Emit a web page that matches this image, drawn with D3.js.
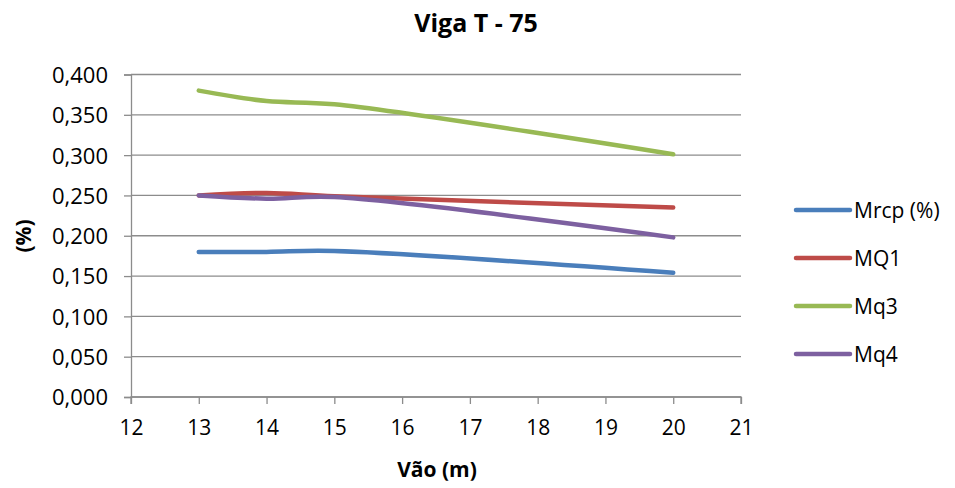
<!DOCTYPE html>
<html>
<head>
<meta charset="utf-8">
<script src="https://cdn.jsdelivr.net/npm/d3@7"></script>
<style>
  html, body { margin: 0; padding: 0; background: #fff; }
  text { font-family: "Open Sans", Lato, sans-serif; fill: #000; }
</style>
</head>
<body>
<svg id="chart" width="955" height="488"></svg>
<script>
// Span (m) and ratio values per series
const spans = [13, 14, 15, 20];
const mrcp = [0.180, 0.180, 0.181, 0.154];
const mq1  = [0.250, 0.253, 0.249, 0.235];
const mq3  = [0.380, 0.367, 0.363, 0.301];
const mq4  = [0.250, 0.246, 0.248, 0.198];
const seriesNames = ["Mrcp (%)", "MQ1", "Mq3", "Mq4"];
const seriesColors = ["#4A7EBB", "#BE4B48", "#98B954", "#7D60A0"];
const xTicks = [12, 13, 14, 15, 16, 17, 18, 19, 20, 21];
const yTicks = [0, 0.05, 0.10, 0.15, 0.20, 0.25, 0.30, 0.35, 0.40];

const series = [mrcp, mq1, mq3, mq4].map((vals, i) => ({
  name: seriesNames[i],
  color: seriesColors[i],
  points: vals.map((v, j) => ({ x: spans[j], y: v }))
}));

const svg = d3.select("#chart");
const plot = { left: 131, right: 741, top: 74.5, bottom: 397 };
const FONT = "'Open Sans', Lato, sans-serif";

const x = d3.scaleLinear().domain([12, 21]).range([plot.left, plot.right]);
const y = d3.scaleLinear().domain([0, 0.4]).range([plot.bottom, plot.top]);

// Horizontal gridlines
svg.append("g")
  .selectAll("line")
  .data(yTicks)
  .join("line")
  .attr("x1", plot.left)
  .attr("x2", plot.right)
  .attr("y1", d => y(d))
  .attr("y2", d => y(d))
  .attr("stroke", "#8c8c8c")
  .attr("stroke-width", 1.3);

const fmt = d => d3.format(".3f")(d).replace(".", ",");

// Y axis
const yAxis = svg.append("g")
  .attr("transform", `translate(${plot.left},0)`)
  .call(d3.axisLeft(y).tickValues(yTicks).tickFormat(fmt).tickSize(7).tickPadding(16));
yAxis.selectAll("path, line").attr("stroke", "#8c8c8c").attr("stroke-width", 1.3);
yAxis.selectAll("text").style("font-size", "22px").attr("font-family", FONT).attr("dy", "0.36em");

// X axis
const xAxis = svg.append("g")
  .attr("transform", `translate(0,${plot.bottom})`)
  .call(d3.axisBottom(x).tickValues(xTicks).tickFormat(d3.format("d")).tickSize(7).tickPadding(16));
xAxis.selectAll("path, line").attr("stroke", "#8c8c8c").attr("stroke-width", 1.3);
xAxis.select(".domain").attr("d", `M${plot.left},7V0H${plot.right}V7`);
xAxis.selectAll("text").style("font-size", "21px").attr("font-family", FONT);

// Smoothed series lines
const line = d3.line()
  .x(d => x(d.x))
  .y(d => y(d.y))
  .curve(d3.curveCatmullRom.alpha(0.5));

svg.append("g")
  .selectAll("path")
  .data(series)
  .join("path")
  .attr("d", d => line(d.points))
  .attr("fill", "none")
  .attr("stroke", d => d.color)
  .attr("stroke-width", 4.5)
  .attr("stroke-linecap", "round")
  .attr("stroke-linejoin", "round");

// Title
svg.append("text")
  .attr("x", 476)
  .attr("y", 32)
  .attr("text-anchor", "middle")
  .style("font-size", "25px")
  .style("font-weight", "bold")
  .text("Viga T - 75");

// Axis titles
svg.append("text")
  .attr("x", 437)
  .attr("y", 477)
  .attr("text-anchor", "middle")
  .style("font-size", "21px")
  .style("font-weight", "bold")
  .text("Vão (m)");

svg.append("text")
  .attr("transform", "translate(31,236) rotate(-90)")
  .attr("text-anchor", "middle")
  .style("font-size", "21px")
  .style("font-weight", "bold")
  .text("(%)");

// Legend
const legend = svg.append("g")
  .selectAll("g")
  .data(series)
  .join("g")
  .attr("transform", (d, i) => `translate(796,${210 + i * 48})`);

legend.append("line")
  .attr("x1", 0).attr("x2", 54)
  .attr("y1", 0).attr("y2", 0)
  .attr("stroke", d => d.color)
  .attr("stroke-width", 4.5)
  .attr("stroke-linecap", "round");

legend.append("text")
  .attr("x", 58)
  .attr("y", 7.5)
  .style("font-size", "21px")
  .text(d => d.name);
</script>
</body>
</html>
